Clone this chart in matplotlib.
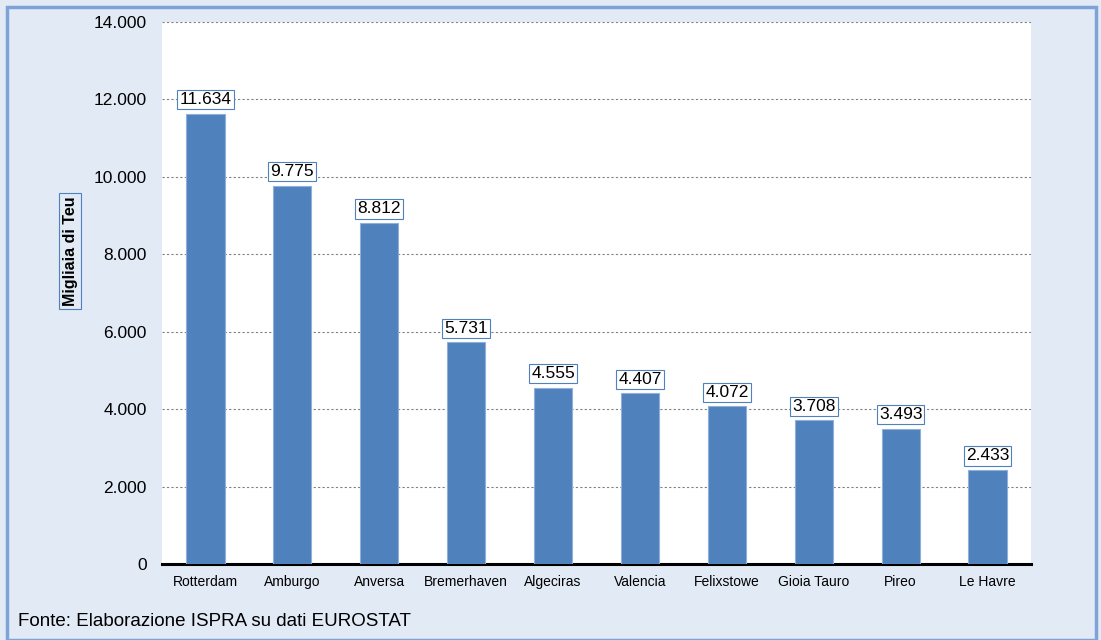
import matplotlib.pyplot as plt
from matplotlib.patches import Rectangle
from matplotlib.ticker import FuncFormatter

# Data
ports = ['Rotterdam', 'Amburgo', 'Anversa', 'Bremerhaven', 'Algeciras',
         'Valencia', 'Felixstowe', 'Gioia Tauro', 'Pireo', 'Le Havre']
teu = [11634, 9775, 8812, 5731, 4555, 4407, 4072, 3708, 3493, 2433]

plt.rcParams['font.family'] = ['Liberation Sans', 'DejaVu Sans']

bg = '#e2eaf5'
bar_col = '#4f81bd'

fig = plt.figure(figsize=(11.01, 6.4), dpi=100, facecolor=bg)

# outer frame
fig.patches.append(Rectangle((7/1101, 0.0), 1089/1101, 633/640, transform=fig.transFigure,
                             fill=False, edgecolor='#7fa3d6', linewidth=2.5))

ax = fig.add_axes([162/1101, 1 - 564/640, 869/1101, 542/640])
ax.set_facecolor('white')

x = range(len(ports))
ax.bar(x, teu, width=0.44, color=bar_col, edgecolor='#8fb0da', linewidth=0.8, zorder=3)

ax.set_ylim(0, 14000)
ax.set_xlim(-0.5, len(ports) - 0.5)
ax.set_yticks(range(0, 14001, 2000))
ax.yaxis.set_major_formatter(FuncFormatter(lambda v, p: f'{int(v):,}'.replace(',', '.')))
ax.grid(axis='y', color='#808080', linestyle=(0, (2, 2)), linewidth=0.8, zorder=0)
ax.set_axisbelow(True)

for s in ['top', 'right', 'left']:
    ax.spines[s].set_visible(False)
ax.spines['bottom'].set_linewidth(2.2)
ax.spines['bottom'].set_color('black')

ax.tick_params(axis='y', length=0, labelsize=12.5, pad=11)
ax.tick_params(axis='x', length=0, labelsize=10, pad=8)
ax.set_xticks(list(x))
ax.set_xticklabels(ports)

for i, v in enumerate(teu):
    ax.annotate(f'{v:,}'.replace(',', '.'), (i, v), xytext=(0, 10), textcoords='offset points',
                ha='center', va='center', fontsize=12.5,
                bbox=dict(boxstyle='square,pad=0.12', facecolor='white',
                          edgecolor='#4f81bd', linewidth=0.8),
                zorder=5)

fig.text(70/1101, 1 - 251/640, 'Migliaia di Teu', rotation=90, ha='center', va='center',
         fontsize=11.5, fontweight='bold',
         bbox=dict(boxstyle='square,pad=0.2', facecolor=bg, edgecolor='#4f81bd', linewidth=0.8))

fig.text(18/1101, 1 - 621/640, 'Fonte: Elaborazione ISPRA su dati EUROSTAT',
         ha='left', va='center', fontsize=13.5)

fig.savefig('out.png', dpi=100, facecolor=bg)
